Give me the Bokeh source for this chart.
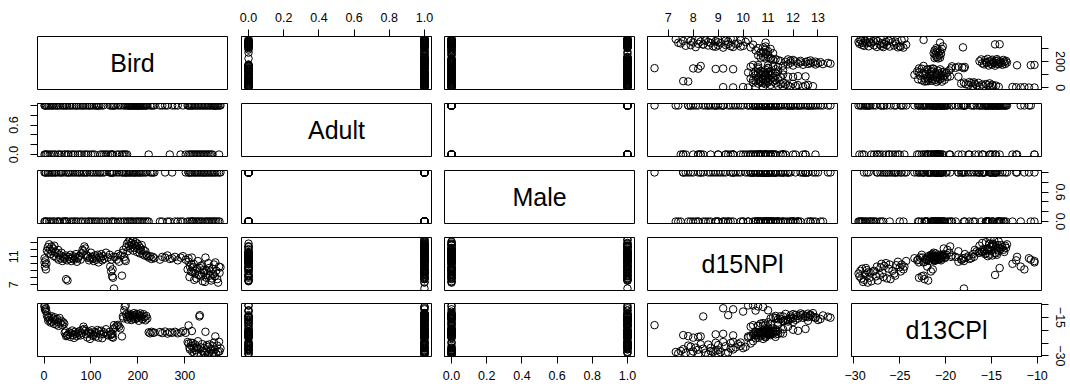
from bokeh.plotting import figure
from bokeh.layouts import gridplot
from bokeh.models import Range1d, LinearAxis, FixedTicker, ColumnDataSource
from bokeh.core.properties import value
from bokeh.embed import file_html
from bokeh.resources import INLINE

# ---------------- data ----------------
bird = [1, 1, 2, 3, 4, 5,
        6, 8, 9, 11, 12, 14, 16, 17, 19, 21, 22, 24, 26, 28, 30, 31, 33, 35, 37, 39, 41, 43,
        47, 50,
        44, 46, 49, 52, 54, 56, 58, 60, 62, 64, 66, 68, 70, 72, 74, 76, 78, 80, 82, 84,
        86, 88, 90, 92, 94, 96, 98, 100, 102, 104, 106, 108, 110, 112, 114, 116, 118, 120, 122, 124,
        126, 128, 132, 136, 140, 144, 148,
        141, 143, 145, 146, 147, 149,
        152, 155, 158, 160, 163, 166,
        168, 169, 171, 172, 174, 175, 177, 178, 180, 181, 183, 184, 186, 187, 189, 190, 192, 193, 195, 196,
        198, 199, 201, 202, 204, 205, 207, 208, 210, 212, 214, 216, 218, 220,
        223, 226, 229, 232, 235, 247, 252, 258, 263, 268, 273, 279, 285, 291, 296, 302, 308, 315,
        306, 308, 310, 311, 313, 314, 316, 317, 319, 320, 322, 323, 325, 326, 328, 329, 331, 332, 334, 335,
        337, 338, 340, 341, 343, 344, 346, 347, 349, 350, 352, 353, 355, 356, 358, 359, 361, 362, 364, 365,
        367, 369, 371, 373, 374, 376]

adult = [1, 0, 1, 0, 1, 0,
         1, 0, 1, 1, 0, 1, 0, 1, 1, 0, 1, 0, 1, 1, 0, 1, 0, 1, 0, 1, 1, 0,
         1, 0,
         1, 0, 1, 0, 1, 1, 0, 1, 0, 1, 0, 1, 1, 0, 1, 0, 1, 0, 1, 1,
         0, 1, 0, 1, 0, 1, 1, 0, 1, 0, 1, 0, 1, 1, 1, 1, 1, 0, 1, 0,
         1, 0, 0, 0, 1, 0, 1,
         0, 1, 0, 1, 0, 1,
         1, 0, 1, 0, 1, 0,
         0, 1, 0, 1, 0, 1, 0, 1, 1, 1, 1, 1, 1, 1, 1, 1, 1, 1, 1, 1,
         1, 1, 1, 1, 1, 1, 1, 1, 1, 1, 1, 1, 1, 1,
         0, 1, 1, 1, 1, 1, 1, 1, 1, 0, 1, 1, 1, 0, 1, 0, 1, 1,
         1, 0, 1, 0, 1, 0, 1, 0, 1, 0, 1, 0, 1, 0, 1, 0, 1, 0, 1, 0,
         1, 0, 1, 0, 1, 0, 1, 0, 1, 0, 1, 0, 1, 0, 1, 0, 1, 1, 1, 1,
         1, 1, 1, 0, 1, 1]

male = [1, 0, 0, 1, 1, 0,
        0, 1, 1, 0, 1, 0, 1, 1, 0, 1, 0, 1, 1, 0, 0, 1, 0, 1, 1, 0, 1, 0,
        0, 1,
        0, 1, 0, 1, 1, 0, 1, 0, 1, 0, 1, 0, 1, 0, 1, 1, 0, 1, 0, 1,
        1, 0, 1, 1, 0, 0, 1, 0, 1, 0, 1, 0, 1, 0, 1, 0, 1, 1, 0, 1,
        0, 1, 0, 0, 1, 1, 0,
        1, 0, 1, 0, 1, 1,
        0, 1, 0, 1, 0, 1,
        1, 0, 1, 0, 1, 1, 0, 1, 0, 1, 1, 0, 1, 0, 1, 0, 1, 1, 0, 1,
        0, 1, 0, 1, 1, 0, 1, 0, 1, 0, 1, 0, 1, 0,
        0, 1, 1, 1, 1, 0, 0, 1, 0, 0, 1, 0, 0, 0, 0, 1, 1, 0,
        0, 1, 0, 1, 1, 0, 1, 0, 0, 1, 1, 0, 1, 0, 1, 0, 1, 0, 1, 0,
        1, 0, 1, 1, 0, 1, 0, 1, 0, 1, 0, 1, 0, 1, 0, 1, 0, 1, 0, 1,
        0, 1, 0, 1, 0, 1]

d15n = [10.8, 10.2, 9.6, 10.5, 9.2, 10.0,
        11.9, 12.4, 11.6, 12.8, 12.1, 11.4, 12.5, 11.8, 12.2, 11.1, 12.6, 11.7, 10.9, 11.5, 12.0, 10.6,
        11.3, 10.8, 11.6, 10.4, 11.0, 10.7,
        7.8, 7.6,
        10.9, 11.2, 10.5, 11.0, 10.7, 11.3, 10.4, 10.8, 11.1, 10.6, 10.9, 11.4, 10.3, 10.8, 11.0, 11.2,
        10.6, 11.5, 12.0, 11.8,
        12.5, 12.2, 11.3, 10.9, 11.1, 10.5, 10.8, 11.6, 11.0, 10.7, 10.4, 11.2, 10.9, 10.6, 11.3, 10.2,
        11.0, 10.8, 11.4, 10.5,
        11.1, 10.7, 11.6, 10.9, 11.3, 10.6, 11.0,
        9.6, 8.9, 8.2, 9.2, 8.0, 6.45,
        11.0, 10.6, 11.4, 10.3, 11.2, 8.3,
        11.6, 12.0, 11.0, 10.6, 10.4, 12.4, 12.9, 11.8, 13.2, 12.6, 13.5, 12.2, 13.0, 12.7, 13.4, 11.9,
        12.8, 12.3, 13.1, 12.5,
        11.7, 12.9, 12.1, 12.6, 11.5, 12.3, 11.9, 12.7, 11.4, 12.0, 11.2, 11.8, 11.3, 11.1,
        10.9, 11.1, 10.7, 11.0, 10.8, 10.6, 11.0, 10.9, 11.2, 10.7, 10.8, 11.0, 10.5, 10.9, 11.1, 10.6,
        10.8, 10.9,
        9.2, 10.3, 8.1, 9.6, 8.9, 9.9, 8.8, 9.5, 10.0, 7.7, 8.6, 9.0, 7.9, 9.3, 10.4, 8.4,
        8.4, 9.4, 9.7, 8.2,
        9.8, 7.5, 9.1, 8.7, 7.4, 10.9, 8.0, 9.0, 8.6, 10.1, 9.4, 8.3, 8.9, 7.6, 7.9, 9.3,
        8.5, 9.9, 8.2, 10.2,
        9.0, 7.8, 7.3, 9.6, 8.7, 9.5]

d13c = [-10.9, -10.3, -11.8, -12.3, -11.4, -12.7,
        -14.2, -15.1, -16.3, -14.8, -15.9, -17.0, -14.5, -16.6, -15.4, -17.5, -14.9, -16.0, -17.8, -15.6,
        -16.8, -18.3, -15.2, -17.2, -16.4, -18.0, -16.9, -17.4,
        -22.3, -21.9,
        -21.0, -20.4, -22.1, -21.5, -20.8, -22.6, -21.2, -20.1, -21.9, -23.0, -20.6, -21.4, -22.3, -20.9,
        -21.7, -20.3, -22.0, -21.1, -19.8, -18.6,
        -19.5, -20.2, -21.6, -22.8, -21.0, -20.5, -23.4, -21.3, -20.0, -22.2, -21.8, -20.7, -22.5, -21.1,
        -19.9, -22.9, -20.4, -21.6, -20.2, -23.1,
        -21.5, -20.8, -19.6, -22.0, -20.6, -21.3, -19.4,
        -22.0, -21.6, -22.6, -21.4, -22.9, -18.0,
        -18.9, -18.2, -17.9, -18.6, -19.3, -22.4,
        -14.6, -15.3, -12.2, -10.7, -10.3, -13.8, -14.9, -15.8, -14.2, -13.5, -15.1, -14.4, -16.0, -13.9,
        -14.7, -15.5, -13.3, -14.1, -15.6, -14.8,
        -13.6, -15.2, -14.0, -16.3, -14.5, -13.4, -15.0, -14.3, -15.7, -13.7, -14.9, -16.1, -14.4, -15.4,
        -20.8, -21.2, -20.6, -21.0, -20.9, -20.7, -21.1, -20.5, -21.3, -20.8, -21.0, -20.6, -21.2, -20.9,
        -20.4, -21.0, -18.1, -20.3,
        -24.6, -25.2, -26.8, -27.5, -24.9, -26.1, -28.4, -25.0, -27.0, -28.9, -25.6, -27.8, -26.4, -29.1,
        -24.3, -27.2, -14.6, -14.1, -26.7, -29.4,
        -25.4, -28.1, -28.6, -26.9, -29.0, -20.6, -28.3, -25.8, -29.5, -26.5, -28.7, -25.5, -27.9, -27.4,
        -29.2, -26.2, -28.8, -24.8, -27.6, -22.4,
        -29.3, -26.0, -28.5, -24.5, -28.2, -27.1]

var_names = ["Bird", "Adult", "Male", "d15NPl", "d13CPl"]
columns = [bird, adult, male, d15n, d13c]

bird_ticks = [0, 100, 200, 300]
unit_ticks = [0.0, 0.2, 0.4, 0.6, 0.8, 1.0]
d15n_ticks = [7, 8, 9, 10, 11, 12, 13]
d13c_ticks = [-30, -25, -20, -15, -10]
ticks = [bird_ticks, unit_ticks, unit_ticks, d15n_ticks, d13c_ticks]

# full tick labels (x axes: bottom/top)
full_labels = [["0", "100", "200", "300"],
               ["0.0", "0.2", "0.4", "0.6", "0.8", "1.0"],
               ["0.0", "0.2", "0.4", "0.6", "0.8", "1.0"],
               ["7", "8", "9", "10", "11", "12", "13"],
               ["\u221230", "\u221225", "\u221220", "\u221215", "\u221210"]]
# y-axis labels (R drops overlapping ones)
side_labels = [["0", "", "200", ""],
               ["0.0", "", "", "0.6", "", ""],
               ["0.0", "", "", "0.6", "", ""],
               ["7", "", "", "", "11", "", ""],
               ["\u221230", "", "", "\u221215", ""]]

# ---------------- layout ----------------
FW, FH = 190, 53
col_l = [37, 7, 7, 7, 7]
col_r = [7, 6, 6, 7, 29]
row_t = [36, 7, 7, 7, 7]
row_b = [7, 7, 7, 6, 30]
FONT = "Liberation Sans"
TICK_FS = "12.5px"

src = ColumnDataSource(data={n: c for n, c in zip(var_names, columns)})


def rng(vals):
    lo, hi = min(vals), max(vals)
    pad = 0.04 * (hi - lo)
    return Range1d(lo - pad, hi + pad)


def make_axis(k, labels, side):
    ax = LinearAxis(ticker=FixedTicker(ticks=ticks[k], minor_ticks=[]),
                    major_label_overrides={t: l for t, l in zip(ticks[k], labels)},
                    major_tick_out=7, major_tick_in=0, minor_tick_out=0, minor_tick_in=0,
                    axis_line_color="black", axis_line_width=1,
                    major_tick_line_color="black", major_tick_line_width=1,
                    major_label_text_font=FONT, major_label_text_font_size=TICK_FS,
                    major_label_text_color="black")
    if side in ("left", "right"):
        ax.major_label_orientation = "vertical"
        ax.major_label_standoff = 12 if side == "left" else 7
    else:
        ax.major_label_standoff = 7 if side == "below" else 8
    return ax


rows = []
for i in range(5):
    row = []
    for j in range(5):
        p = figure(width=col_l[j] + FW + col_r[j], height=row_t[i] + FH + row_b[i],
                   x_range=rng(columns[j]), y_range=rng(columns[i]),
                   output_backend="svg", toolbar_location=None,
                   x_axis_location=None, y_axis_location=None,
                   min_border_left=col_l[j], min_border_right=col_r[j],
                   min_border_top=row_t[i], min_border_bottom=row_b[i],
                   outline_line_color="black", outline_line_width=1,
                   background_fill_color="white", border_fill_color="white")
        p.xgrid.visible = False
        p.ygrid.visible = False
        if i == j:
            xr, yr = p.x_range, p.y_range
            p.text(x=[(xr.start + xr.end) / 2], y=[(yr.start + yr.end) / 2], text=[var_names[i]],
                   text_align="center", text_baseline="middle",
                   text_font=value(FONT), text_font_size="25px", text_color="black")
        else:
            p.scatter(x=var_names[j], y=var_names[i], source=src, marker="circle", size=7.5,
                      fill_color=None, line_color="black", line_width=1)
        # x axes: odd columns at bottom (last row), even columns on top (first row)
        if i == 4 and j % 2 == 0:
            p.add_layout(make_axis(j, full_labels[j], "below"), "below")
        if i == 0 and j % 2 == 1:
            p.add_layout(make_axis(j, full_labels[j], "above"), "above")
        # y axes: odd rows on right (last column), even rows on left (first column)
        if j == 4 and i % 2 == 0:
            p.add_layout(make_axis(i, side_labels[i], "right"), "right")
        if j == 0 and i % 2 == 1:
            p.add_layout(make_axis(i, side_labels[i], "left"), "left")
        row.append(p)
    rows.append(row)

grid = gridplot(rows, toolbar_location=None)

open("out.html", "w").write(file_html(grid, INLINE))
